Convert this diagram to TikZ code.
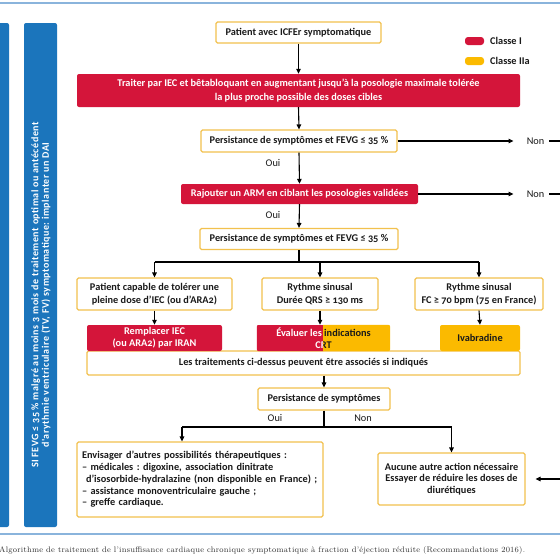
\documentclass[tikz,border=0pt]{standalone}
\usepackage{fontspec}
\setmainfont{Carlito}[Numbers=OldStyle]
\newfontfamily\capfont[LetterSpace=3]{Latin Modern Roman}
\newfontfamily\barfont[LetterSpace=5,Numbers=OldStyle]{Carlito}
\usetikzlibrary{arrows.meta,calc}
\definecolor{cred}{HTML}{D4153A}
\definecolor{cyel}{HTML}{FBBA00}
\definecolor{cbord}{HTML}{F2C14E}
\definecolor{ctext}{HTML}{1A1A1A}
\definecolor{cbar}{HTML}{1B75BC}
\definecolor{cline}{HTML}{8AB4DC}
\definecolor{ccap}{HTML}{333333}
\newcommand\mainf{\bfseries\fontsize{10.3}{13}\selectfont}
\newcommand\listf{\bfseries\fontsize{10.3}{11.7}\selectfont}
\newcommand\lblf{\fontsize{10.3}{13}\selectfont}
\frenchspacing
\begin{document}
\begin{tikzpicture}[x=1pt,y=1pt,
  box/.style={draw=cbord, line width=1.1pt, fill=white, rounded corners=1.5pt, inner sep=0pt, align=center, font=\mainf, text=ctext},
  redbox/.style={fill=cred, rounded corners=2pt, inner sep=0pt, align=center, font=\mainf, text=white},
  yelbox/.style={fill=cyel, rounded corners=2pt, inner sep=0pt, align=center, font=\mainf, text=ctext},
  arr/.style={-{Triangle[length=5pt,width=4.5pt]}, line width=1.1pt},
  ln/.style={line width=1.1pt},
  lbl/.style={font=\lblf, text=ctext, inner sep=0pt},
  bar/.style={fill=cbar, rounded corners=2pt, inner sep=0pt}]
\useasboundingbox (0,0) rectangle (560,-560);
\fill[white] (0,0) rectangle (560,-560);
% frame lines
\draw[cline, line width=1.5pt] (0,-3) -- (560,-3);
\draw[cline, line width=1.5pt] (0,-534) -- (560,-534);
% blue bars
\node[bar, minimum width=29pt, minimum height=504pt] (bar1) at (-5.5,-275) {};
\node[bar, minimum width=33pt, minimum height=504pt] (bar2) at (40.5,-275) {};
\node[rotate=90, align=center, text=white, inner sep=0pt, font=\barfont\bfseries\fontsize{10}{10.5}\selectfont] (bart) at (41,-295)
  {SI FEVG ≤ 35 \% malgré au moins 3 mois de traitement optimal ou antécédent\\d'arythmie ventriculaire (TV, FV) symptomatique: implanter un DAI};
% legend
\node[redbox, minimum width=19pt, minimum height=8pt, rounded corners=3pt] (lg1) at (474.5,-41) {};
\node[lbl, font=\mainf, anchor=west] (lg1t) at (490,-41) {Classe I};
\node[yelbox, minimum width=19pt, minimum height=8pt, rounded corners=3pt] (lg2) at (474.5,-61) {};
\node[lbl, font=\mainf, anchor=west] (lg2t) at (490,-61) {Classe IIa};
% main column
\node[box, minimum width=165pt, minimum height=21pt] (top) at (298.5,-32.5) {Patient avec ICFEr symptomatique};
\node[redbox, minimum width=443pt, minimum height=33pt, font=\bfseries\fontsize{10.3}{14.5}\selectfont] (red1) at (298.5,-90.5)
  {Traiter par IEC et bêtabloquant en augmentant jusqu'à la posologie maximale tolérée\\la plus proche possible des doses cibles};
\node[box, minimum width=196pt, minimum height=22pt] (b1) at (299,-141) {Persistance de symptômes et FEVG ≤ 35 \%};
\node[redbox, minimum width=237pt, minimum height=20pt] (red2) at (299.5,-194) {Rajouter un ARM en ciblant les posologies validées};
\node[box, minimum width=198pt, minimum height=21pt] (b3) at (299,-239) {Persistance de symptômes et FEVG ≤ 35 \%};
\node[lbl] (oui1) at (273,-163) {Oui};
\node[lbl] (oui2) at (273,-215) {Oui};
\node[lbl] (non1) at (535.5,-141) {Non};
\node[lbl] (non2) at (535.5,-194) {Non};
\coordinate (out1) at (565,-141);
\coordinate (out2) at (565,-194);
\draw[arr] (top.south) -- (red1.north);
\draw[arr] (red1.south) -- (b1.north);
\draw[arr] (b1.south) -- (red2.north);
\draw[arr] (red2.south) -- (b3.north);
\draw[arr, shorten >=13pt] (b1.east) -- (non1.west);
\draw[arr, shorten >=13pt] (red2.east) -- (non2.west);
\draw[ln, shorten <=5pt] (non1.east) -- (out1);
\draw[ln, shorten <=5pt] (non2.east) -- (out2);
% three branches
\node[box, minimum width=155pt, minimum height=32pt] (bl) at (154.5,-294) {Patient capable de tolérer une\\pleine dose d'IEC (ou d'ARA2)};
\node[box, minimum width=116pt, minimum height=32pt] (bm) at (320,-294) {Rythme sinusal\\Durée QRS ≥ 130 ms};
\node[box, minimum width=128pt, minimum height=32pt] (br) at (479,-294) {Rythme sinusal\\FC ≥ 70 bpm (75 en France)};
\coordinate (j1) at (299,-262);
\draw[ln] (b3.south) -- (j1);
\draw[ln] (bl.north |- j1) -- (br.north |- j1);
\draw[arr] (bl.north |- j1) -- (bl.north);
\draw[arr] (bm.north |- j1) -- (bm.north);
\draw[arr] (br.north |- j1) -- (br.north);
\node[box, minimum width=433pt, minimum height=24pt] (tr) at (303.5,-363) {Les traitements ci-dessus peuvent être associés si indiqués};
\node[redbox, minimum width=135pt, minimum height=26pt, font=\bfseries\fontsize{10.3}{12}\selectfont] (rl) at (154.5,-338) {Remplacer IEC\\(ou ARA2) par IRAN};
\node[yelbox, minimum width=80pt, minimum height=26pt] (iv) at (480,-338) {Ivabradine};
\node[minimum width=133pt, minimum height=26pt, inner sep=0pt] (crt) at (323.5,-338) {};
\begin{scope}
  \clip (crt.south west) rectangle (323,-325);
  \fill[cred, rounded corners=2pt] (crt.south west) rectangle (crt.north east);
  \node[align=center, inner sep=0pt, text=white, font=\bfseries\fontsize{10.3}{12}\selectfont] (crtw) at (crt.center) {Évaluer les indications\\CRT};
\end{scope}
\begin{scope}
  \clip (323,-351) rectangle (crt.north east);
  \fill[cyel, rounded corners=2pt] (crt.south west) rectangle (crt.north east);
  \node[align=center, inner sep=0pt, text=ctext, font=\bfseries\fontsize{10.3}{12}\selectfont] (crty) at (crt.center) {Évaluer les indications\\CRT};
\end{scope}
\draw[arr] (bl.south) -- (rl.north);
\draw[arr] (bm.south) -- (crt.north -| bm.south);
\draw[arr] (br.south) -- (iv.north);
% last decision
\node[box, minimum width=132pt, minimum height=22pt] (ps) at (324,-399) {Persistance de symptômes};
\draw[arr] (ps.north |- tr.south) -- (ps.north);
\node[lbl] (oui3) at (275,-418) {Oui};
\node[lbl] (non3) at (363,-418) {Non};
\node[box, minimum width=246pt, minimum height=75pt, text width=236pt, align=left, font=\listf] (lb) at (200,-479.5)
  {Envisager d’autres possibilités thérapeutiques :\\
   – médicales : digoxine, association dinitrate\\
   \hspace*{4pt}d’isosorbide-hydralazine (non disponible en France) ;\\
   – assistance monoventriculaire gauche ;\\
   – greffe cardiaque.};
\node[box, minimum width=147pt, minimum height=52pt, font=\listf] (rb) at (451.5,-479)
  {Aucune autre action nécessaire\\Essayer de réduire les doses de\\diurétiques};
\coordinate (j2) at (324,-427);
\coordinate (jl) at (182,-427);
\coordinate (out3) at (565,-479);
\draw[ln] (ps.south) -- (j2);
\draw[ln] (jl) -- (rb.north |- j2);
\draw[arr] (jl) -- (jl |- lb.north);
\draw[arr] (rb.north |- j2) -- (rb.north);
\draw[arr, shorten >=10pt] (out3) -- (rb.east);
% caption
\node[anchor=west, inner sep=0pt, text=ccap, font=\capfont\fontsize{8}{9}\selectfont] (cap) at (-1,-550)
  {Algorithme de traitement de l’insuffisance cardiaque chronique symptomatique à fraction d’éjection réduite (Recommandations 2016).};
\end{tikzpicture}
\end{document}
